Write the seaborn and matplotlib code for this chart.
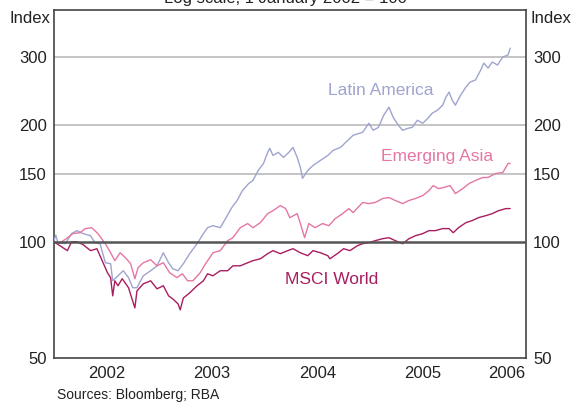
import matplotlib
matplotlib.use('Agg')
import matplotlib.pyplot as plt
import pandas as pd
import seaborn as sns

# Equity indices, 1 January 2002 = 100
latam_year = [2002.00, 2002.02, 2002.04, 2002.11, 2002.17, 2002.22, 2002.28, 2002.35, 2002.39,
              2002.44, 2002.49, 2002.54, 2002.56, 2002.61, 2002.66, 2002.71, 2002.75, 2002.79,
              2002.85, 2002.92, 2002.98, 2003.04, 2003.09, 2003.13, 2003.18, 2003.23, 2003.29,
              2003.36, 2003.42, 2003.46, 2003.51, 2003.58, 2003.63, 2003.69, 2003.74, 2003.79,
              2003.85, 2003.89, 2003.94, 2003.99, 2004.03, 2004.05, 2004.08, 2004.13, 2004.18,
              2004.23, 2004.27, 2004.31, 2004.34, 2004.36, 2004.41, 2004.46, 2004.53, 2004.60,
              2004.65, 2004.72, 2004.79, 2004.84, 2004.93, 2004.99, 2005.03, 2005.08, 2005.13,
              2005.18, 2005.22, 2005.27, 2005.31, 2005.36, 2005.40, 2005.45, 2005.50, 2005.55,
              2005.59, 2005.64, 2005.69, 2005.72, 2005.75, 2005.78, 2005.81, 2005.86, 2005.91,
              2005.95, 2006.00, 2006.05, 2006.08, 2006.12, 2006.16, 2006.21, 2006.26, 2006.31,
              2006.33]
latam_index = [100.0, 104.0, 99.4, 98.8, 104.9, 106.8, 104.9, 103.6, 99.4,
               98.8, 88.2, 87.7, 79.2, 81.6, 84.1, 80.7, 76.0, 76.0,
               81.6, 84.1, 86.6, 93.6, 88.2, 85.1, 84.1, 87.7, 93.1,
               98.8, 104.9, 108.7, 110.0, 108.7, 114.7, 122.6, 127.8, 135.6,
               141.4, 144.0, 152.9, 159.4, 170.3, 174.4, 167.2, 170.3, 165.2,
               170.3, 175.4, 165.2, 155.6, 145.8, 152.9, 157.5, 162.3, 167.2,
               172.3, 175.4, 182.9, 188.5, 191.9, 202.5, 194.2, 197.6, 212.4,
               222.9, 209.9, 200.0, 194.2, 196.5, 197.6, 206.2, 202.5, 208.7,
               215.0, 218.9, 225.6, 236.6, 243.8, 232.4, 225.6, 239.5, 251.3,
               258.9, 262.0, 278.0, 289.9, 281.3, 291.7, 286.5, 300.6, 304.3,
               316.9]

asia_year = [2002.00, 2002.06, 2002.12, 2002.18, 2002.25, 2002.30, 2002.36, 2002.42, 2002.49,
             2002.54, 2002.58, 2002.63, 2002.68, 2002.73, 2002.77, 2002.80, 2002.85, 2002.92,
             2002.98, 2003.04, 2003.10, 2003.17, 2003.22, 2003.27, 2003.32, 2003.39, 2003.44,
             2003.48, 2003.51, 2003.58, 2003.65, 2003.70, 2003.77, 2003.84, 2003.89, 2003.96,
             2004.03, 2004.08, 2004.15, 2004.20, 2004.24, 2004.31, 2004.34, 2004.38, 2004.42,
             2004.48, 2004.55, 2004.61, 2004.67, 2004.74, 2004.80, 2004.84, 2004.93, 2004.99,
             2005.05, 2005.12, 2005.18, 2005.24, 2005.31, 2005.37, 2005.43, 2005.50, 2005.56,
             2005.60, 2005.65, 2005.70, 2005.76, 2005.81, 2005.88, 2005.94, 2006.00, 2006.07,
             2006.12, 2006.19, 2006.26, 2006.31, 2006.33]
asia_index = [100.0, 99.4, 101.8, 104.9, 105.5, 108.1, 108.7, 104.9, 98.8,
              93.6, 89.3, 93.6, 90.9, 87.7, 80.2, 85.6, 88.2, 89.8,
              86.6, 88.2, 83.1, 80.7, 82.6, 79.2, 79.2, 83.1, 87.7,
              90.9, 93.6, 94.8, 100.6, 102.4, 108.7, 111.4, 108.7, 112.0,
              118.2, 120.3, 124.0, 121.8, 115.4, 118.2, 111.4, 102.4, 111.4,
              108.7, 111.4, 110.0, 114.7, 118.2, 121.8, 118.9, 126.3, 125.5,
              126.3, 129.3, 130.1, 127.8, 125.5, 127.8, 129.3, 131.6, 135.6,
              139.7, 137.2, 138.1, 139.7, 133.2, 137.2, 141.4, 144.0, 146.6,
              146.6, 150.1, 151.0, 159.4, 159.4]

world_year = [2002.00, 2002.06, 2002.13, 2002.17, 2002.22, 2002.28, 2002.35, 2002.41, 2002.46,
              2002.51, 2002.54, 2002.56, 2002.58, 2002.61, 2002.65, 2002.71, 2002.74, 2002.77,
              2002.79, 2002.85, 2002.92, 2002.98, 2003.04, 2003.09, 2003.13, 2003.18, 2003.20,
              2003.23, 2003.29, 2003.36, 2003.42, 2003.46, 2003.51, 2003.58, 2003.65, 2003.70,
              2003.77, 2003.84, 2003.89, 2003.96, 2004.03, 2004.08, 2004.15, 2004.22, 2004.27,
              2004.34, 2004.41, 2004.46, 2004.53, 2004.60, 2004.62, 2004.69, 2004.75, 2004.81,
              2004.88, 2004.93, 2004.99, 2005.05, 2005.12, 2005.18, 2005.24, 2005.31, 2005.37,
              2005.43, 2005.50, 2005.56, 2005.62, 2005.69, 2005.75, 2005.79, 2005.84, 2005.91,
              2005.97, 2006.03, 2006.10, 2006.16, 2006.22, 2006.29, 2006.33]
world_index = [100.0, 97.6, 94.8, 100.0, 100.0, 98.2, 94.8, 95.9, 89.3,
               83.1, 80.7, 72.4, 79.2, 76.9, 80.2, 76.0, 71.5, 67.4,
               74.6, 77.8, 79.2, 75.5, 76.9, 72.4, 71.1, 69.0, 66.6,
               71.5, 73.7, 76.9, 79.2, 82.6, 81.6, 84.1, 84.1, 86.6,
               86.6, 88.2, 89.3, 90.3, 93.1, 94.8, 93.1, 94.8, 95.9,
               93.6, 92.0, 94.8, 93.6, 92.0, 90.3, 93.1, 95.9, 94.8,
               97.6, 98.8, 99.4, 100.6, 101.8, 102.4, 100.6, 98.8, 101.8,
               103.6, 104.9, 106.8, 106.8, 108.1, 108.1, 105.5, 108.7, 112.0,
               113.4, 115.4, 116.8, 118.2, 120.3, 121.8, 121.8]

series_names = ['Latin America', 'Emerging Asia', 'MSCI World']
series_colors = ['#9fa4d0', '#e576a5', '#a81d5f']
y_ticks = [50, 100, 150, 200, 300]
year_labels = ['2002', '2003', '2004', '2005', '2006']

df = pd.concat([
    pd.DataFrame({'year': latam_year, 'index': latam_index, 'series': 'Latin America'}),
    pd.DataFrame({'year': asia_year, 'index': asia_index, 'series': 'Emerging Asia'}),
    pd.DataFrame({'year': world_year, 'index': world_index, 'series': 'MSCI World'}),
], ignore_index=True)

sns.set_theme(style='white')
plt.rcParams['font.family'] = ['Liberation Sans', 'DejaVu Sans']

fig = plt.figure(figsize=(5.76, 4.03), dpi=100)
ax = fig.add_axes([0.0932, 0.1117, 0.82, 0.8627])

# horizontal reference lines
for v in [150, 200, 300]:
    ax.axhline(v, color='#b4b4b4', lw=1.1, zorder=1)
ax.axhline(100, color='#555555', lw=1.8, zorder=4)

sns.lineplot(data=df, x='year', y='index', hue='series', hue_order=series_names,
             palette=dict(zip(series_names, series_colors)), linewidth=1.0,
             estimator=None, sort=False, legend=False, ax=ax, zorder=3)

ax.set_yscale('log')
ax.set_ylim(50, 397)
ax.set_xlim(2002.0, 2006.48)
ax.set_yticks(y_ticks)
ax.set_yticklabels([str(t) for t in y_ticks])
ax.yaxis.set_minor_locator(matplotlib.ticker.NullLocator())
ax.tick_params(axis='y', which='both', length=0, labelsize=12, labelright=True,
               pad=5, colors='#222222')

# year boundaries as ticks, year names centred between them
ax.set_xticks([2003, 2004, 2005, 2006])
ax.set_xticklabels([])
ax.set_xticks([2002.5, 2003.5, 2004.5, 2005.5, 2006.3], minor=True)
ax.set_xticklabels(year_labels, minor=True)
ax.tick_params(axis='x', which='major', direction='in', length=5, width=1, color='#555555')
ax.tick_params(axis='x', which='minor', length=0, labelsize=12, pad=6, colors='#222222')
ax.set_xlabel('')
ax.set_ylabel('')

for s in ax.spines.values():
    s.set_color('#444444')
    s.set_linewidth(1.2)

# series labels
ax.text(2005.10, 246, 'Latin America', color=series_colors[0], fontsize=12.5, ha='center', va='center')
ax.text(2005.64, 166, 'Emerging Asia', color=series_colors[1], fontsize=12.5, ha='center', va='center')
ax.text(2004.64, 80, 'MSCI World', color=series_colors[2], fontsize=12.5, ha='center', va='center')

fig.text(0.087, 0.955, 'Index', fontsize=12, ha='right', va='center', color='#222222')
fig.text(0.921, 0.955, 'Index', fontsize=12, ha='left', va='center', color='#222222')
fig.text(0.495, 1 - 3 / 403, 'Log scale, 1 January 2002 = 100', fontsize=12, ha='center',
         va='baseline', color='#222222')
fig.text(57 / 576, 1 - 395 / 403, 'Sources: Bloomberg; RBA', fontsize=10, ha='left',
         va='center', color='#222222')

fig.savefig('out.png', dpi=100)
